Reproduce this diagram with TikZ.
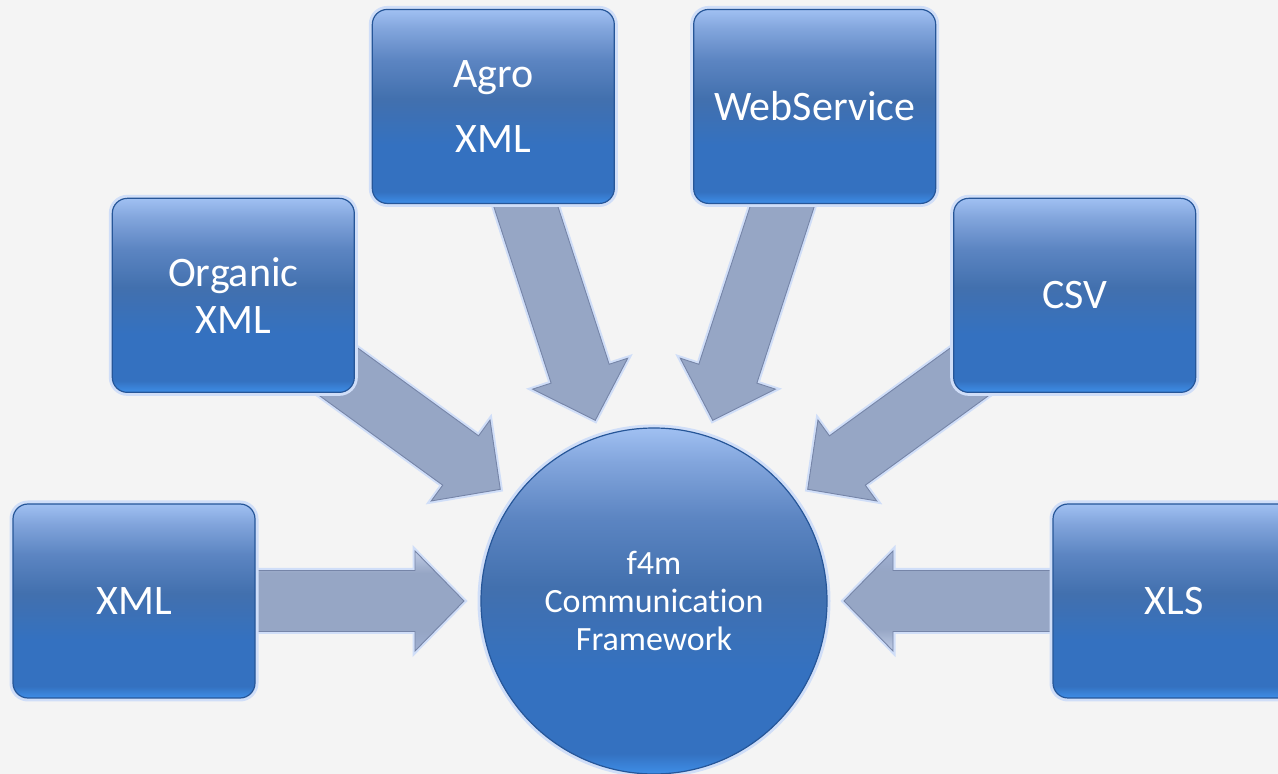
\documentclass[tikz,border=0pt]{standalone}
\usepackage{fontspec}
\setmainfont{Carlito}[Ligatures={NoCommon}]
\usetikzlibrary{calc,backgrounds}

\definecolor{paper}{RGB}{244,244,244}
\definecolor{boxedge}{RGB}{38,86,152}
\definecolor{boxglow}{RGB}{208,222,248}
\definecolor{bluebot}{RGB}{62,142,232}
\definecolor{bluelow}{RGB}{52,113,192}
\definecolor{bluemid}{RGB}{66,112,174}
\definecolor{blueup}{RGB}{92,133,194}
\definecolor{bluehi}{RGB}{130,165,220}
\definecolor{bluetop}{RGB}{160,192,242}
\definecolor{feedmid}{RGB}{150,166,197}
\definecolor{feedlow}{RGB}{160,176,210}
\definecolor{feedlight}{RGB}{192,204,230}
\definecolor{feededge}{RGB}{118,133,168}

\pgfdeclareverticalshading{boxshade}{100bp}{color(0bp)=(bluebot); color(25bp)=(bluebot);
  color(28bp)=(bluelow); color(40bp)=(bluelow); color(52bp)=(bluemid); color(62bp)=(blueup);
  color(70bp)=(bluehi); color(75bp)=(bluetop); color(100bp)=(bluetop)}
\pgfdeclareverticalshading{feedshade}{100bp}{color(0bp)=(feedlow); color(25bp)=(feedlow);
  color(35bp)=(feedmid); color(64bp)=(feedmid); color(75bp)=(feedlight); color(100bp)=(feedlight)}

\begin{document}
\begin{tikzpicture}[x=1pt,y=1pt,
  source/.style={rounded corners=15pt,minimum width=242pt,minimum height=194pt,inner sep=0pt,
    shade,shading=boxshade,draw=boxedge,line width=1.2pt,text=white,align=center,
    font=\fontsize{42}{47}\selectfont,preaction={draw=boxglow,line width=7pt}},
  hub/.style={circle,minimum size=346pt,inner sep=0pt,shade,shading=boxshade,draw=boxedge,
    line width=1.2pt,text=white,align=center,font=\fontsize{34}{38}\selectfont,
    preaction={draw=boxglow,line width=7pt}},
  feed/.style={shade,shading=feedshade,draw=feededge,line width=.9pt,
    preaction={draw=boxglow,line width=5pt}}]
\useasboundingbox (0,0) rectangle (1278,774);

\node[hub] (hub) at (654,173) {f4m\\Communication\\Framework};

\foreach \a/\nm/\txt in {180/xml/XML, 144/organic/{Organic\\XML}, 108/agro/{Agro\\[18pt]XML},
    72/websvc/WebService, 36/csv/CSV, 0/xls/XLS}
  \node[source] (\nm) at ($(hub)+(\a:520)$) {\txt};

% block arrows into the hub
\begin{scope}[on background layer]
  \fill[paper] (0,0) rectangle (1278,774);
  \foreach \a/\nm in {180/xml, 144/organic, 108/agro, 72/websvc, 36/csv, 0/xls}
    \path[feed,shading angle={\a+180}]
      ($(hub)+(\a:190)$) -- ($(hub)+(\a:239)+({\a+90}:50)$) -- ($(hub)+(\a:239)+({\a+90}:30.5)$)
      -- ($(\nm)+({\a+90}:30.5)$) -- ($(\nm)+({\a-90}:30.5)$)
      -- ($(hub)+(\a:239)+({\a-90}:30.5)$) -- ($(hub)+(\a:239)+({\a-90}:50)$) -- cycle;
\end{scope}
\end{tikzpicture}
\end{document}
